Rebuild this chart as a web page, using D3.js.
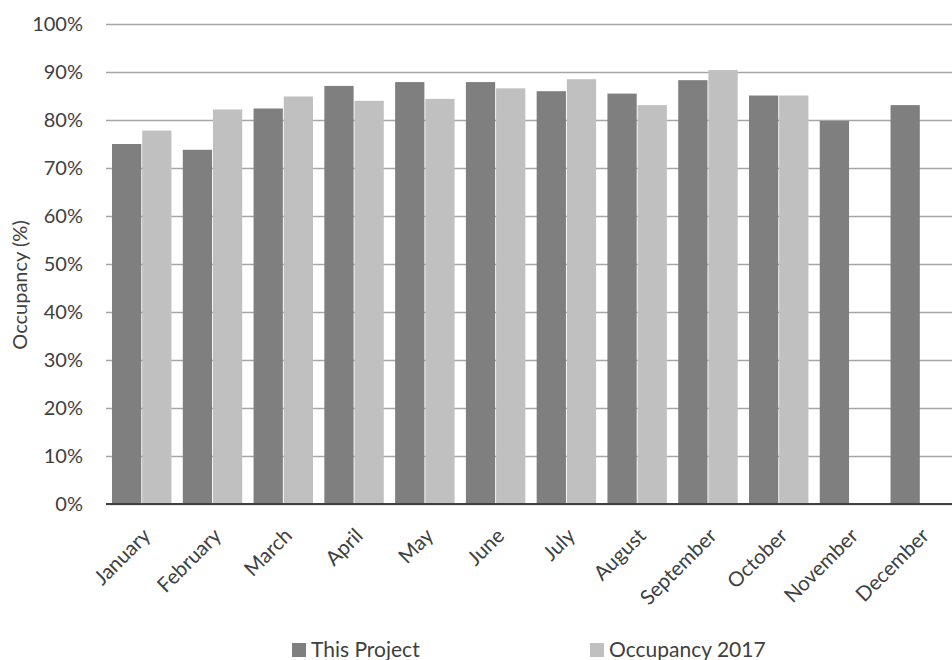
<!DOCTYPE html>
<html>
<head>
<meta charset="utf-8">
<script src="https://d3js.org/d3.v7.min.js"></script>
<style>
  body { margin: 0; background: #fff; }
  svg { display: block; font-family: Lato, "Open Sans", sans-serif; }
</style>
</head>
<body>
<div id="chart"></div>
<script>
var months = ["January", "February", "March", "April", "May", "June",
              "July", "August", "September", "October", "November", "December"];
var thisProject = [75.0, 73.8, 82.4, 87.1, 87.9, 87.9, 86.0, 85.5, 88.3, 85.1, 79.8, 83.1];
var occupancy2017 = [77.8, 82.2, 84.9, 84.0, 84.4, 86.6, 88.5, 83.1, 90.4, 85.1, null, null];
var seriesNames = ["This Project", "Occupancy 2017"];
var seriesColors = ["#7f7f7f", "#c0c0c0"];
var yTicks = [0, 10, 20, 30, 40, 50, 60, 70, 80, 90, 100];

var width = 952, height = 660;
var plotLeft = 106, plotRight = 956, plotTop = 24, plotBottom = 504;

var svg = d3.select("#chart").append("svg")
    .attr("width", width)
    .attr("height", height);

var x0 = d3.scaleBand()
    .domain(months)
    .range([plotLeft, plotRight])
    .paddingInner(0.16)
    .paddingOuter(0.085);

var x1 = d3.scaleBand()
    .domain(seriesNames)
    .range([0, x0.bandwidth()])
    .paddingInner(0.03);

var y = d3.scaleLinear()
    .domain([0, 100])
    .range([plotBottom, plotTop]);

// gridlines
svg.append("g")
    .attr("transform", "translate(" + plotLeft + ",0)")
    .call(d3.axisLeft(y).tickValues(yTicks).tickSize(-(plotRight - plotLeft)).tickFormat(""))
    .call(function (g) {
        g.select(".domain").remove();
        g.selectAll("line").attr("stroke", "#a6a6a6").attr("stroke-width", 1.5);
    });

// y tick labels
svg.append("g")
    .attr("transform", "translate(" + plotLeft + ",0)")
    .call(d3.axisLeft(y).tickValues(yTicks).tickSize(0).tickPadding(23)
        .tickFormat(function (d) { return d + "%"; }))
    .call(function (g) {
        g.select(".domain").remove();
        g.selectAll("text")
            .attr("fill", "#404040")
            .style("font-size", "20px")
            .style("font-family", "Lato, sans-serif");
    });

var rows = months.map(function (m, i) {
    return { month: m, values: [thisProject[i], occupancy2017[i]] };
});

var groups = svg.selectAll("g.month")
    .data(rows)
    .enter()
    .append("g")
    .attr("class", "month")
    .attr("transform", function (d) { return "translate(" + x0(d.month) + ",0)"; });

groups.selectAll("rect")
    .data(function (d) {
        return d.values.map(function (v, j) { return { name: seriesNames[j], value: v, color: seriesColors[j] }; })
            .filter(function (e) { return e.value != null; });
    })
    .enter()
    .append("rect")
    .attr("x", function (d) { return x1(d.name); })
    .attr("y", function (d) { return y(d.value); })
    .attr("width", x1.bandwidth())
    .attr("height", function (d) { return y(0) - y(d.value); })
    .attr("fill", function (d) { return d.color; });

// baseline
svg.append("line")
    .attr("x1", plotLeft)
    .attr("x2", plotRight)
    .attr("y1", y(0))
    .attr("y2", y(0))
    .attr("stroke", "#404040")
    .attr("stroke-width", 2);

// x labels
svg.append("g")
    .selectAll("text")
    .data(months)
    .enter()
    .append("text")
    .attr("transform", function (d) {
        return "translate(" + (x0(d) + x0.bandwidth() / 2 + 10) + "," + (y(0) + 33) + ") rotate(-45)";
    })
    .attr("text-anchor", "end")
    .attr("fill", "#404040")
    .style("font-size", "20.5px")
    .text(function (d) { return d; });

// y title
svg.append("text")
    .attr("transform", "translate(27,285) rotate(-90)")
    .attr("text-anchor", "middle")
    .attr("fill", "#404040")
    .style("font-size", "20px")
    .text("Occupancy (%)");

// legend
var legendX = [292, 590];
var legend = svg.selectAll("g.legend")
    .data(seriesNames)
    .enter()
    .append("g")
    .attr("class", "legend")
    .attr("transform", function (d, i) { return "translate(" + legendX[i] + ",643)"; });

legend.append("rect")
    .attr("width", 14)
    .attr("height", 14)
    .attr("fill", function (d, i) { return seriesColors[i]; });

legend.append("text")
    .attr("x", 19)
    .attr("y", 14)
    .attr("fill", "#404040")
    .style("font-size", "21px")
    .text(function (d) { return d; });
</script>
</body>
</html>
